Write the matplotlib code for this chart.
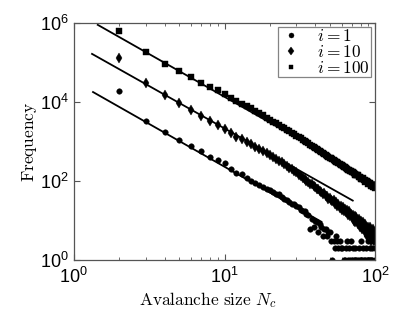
import numpy as np
import matplotlib
matplotlib.use("Agg")
import matplotlib.pyplot as plt
from matplotlib.font_manager import FontProperties
from matplotlib.ticker import NullLocator

plt.rcParams['font.family'] = ['Liberation Sans', 'DejaVu Sans']

sizes = list(range(2, 101))

freq_i1 = [19000, 3300, 1700, 1100, 770, 575, 410, 340, 280, 200,
           162, 150, 118, 102, 90, 80, 70, 62, 58, 52,
           47, 48, 40, 36, 33, 30, 27, 26, 24, 22,
           18, 17, 17, 15, 14, 6, 11, 7, 10, 9,
           5, 8, 7, 4, 6, 6, 4, 5, 5, 3,
           1, 3, 2, 4, 3, 2, 3, 2, 2, 0,
           1, 1, 2, 3, 1, 2, 1, 3, 1, 2,
           1, 1, 2, 1, 0, 1, 2, 1, 1, 3,
           1, 2, 1, 1, 0, 2, 1, 1, 3, 1,
           2, 1, 1, 2, 1, 3, 0, 2, 1]

freq_i10 = [129000, 30900, 15100, 9550, 6310, 4470, 3310, 2630, 2040, 1620,
            1290, 1150, 977, 851, 741, 646, 562, 501, 447, 398,
            363, 324, 295, 269, 245, 219, 199, 176, 165, 143,
            136, 120, 114, 100, 97, 85, 83, 74, 70, 62,
            64, 55, 52, 46, 49, 41, 43, 36, 38, 33,
            31, 34, 27, 29, 24, 27, 21, 24, 19, 22,
            17, 20, 16, 19, 14, 17, 13, 15, 12, 14,
            10, 13, 9, 12, 10, 8, 11, 7, 10, 8,
            6, 9, 7, 5, 8, 6, 4, 7, 5, 6,
            4, 7, 3, 5, 4, 6, 3, 5, 4]

freq_i100 = [631000, 182000, 91200, 58900, 41700, 30900, 24500, 19500, 15800, 12900,
             10700, 9120, 7940, 6920, 5970, 5190, 4550, 4020, 3570, 3190,
             2870, 2590, 2340, 2140, 1950, 1790, 1640, 1520, 1406, 1295,
             1197, 1108, 1028, 957, 891, 832, 778, 729, 685, 644,
             607, 571, 540, 511, 483, 457, 434, 412, 392, 373,
             356, 339, 324, 309, 295, 282, 271, 259, 248, 238,
             229, 228, 211, 203, 189, 188, 182, 175, 169, 170,
             157, 152, 140, 142, 138, 139, 129, 125, 115, 117,
             114, 116, 107, 104, 96, 98, 100, 93, 86, 88,
             89, 83, 77, 79, 81, 71, 73, 74, 66]

# fitted power-law lines: [x_start, x_end], [y_start, y_end]
fit_x_i1 = [1.34, 44.0]
fit_y_i1 = [17800, 9.3]
fit_x_i10 = [1.32, 71.0]
fit_y_i10 = [164000, 32.0]
fit_x_i100 = [1.44, 70.0]
fit_y_i100 = [891000, 200.0]

labels = [r'$i = 1$', r'$i = 10$', r'$i = 100$']

fig = plt.figure(figsize=(4.15, 3.13), dpi=100)
ax = fig.add_axes([0.178, 0.169, 0.726, 0.758])

x = np.array(sizes, dtype=float)
series = [(freq_i1, 'o', fit_x_i1, fit_y_i1, 4.0),
          (freq_i10, 'd', fit_x_i10, fit_y_i10, 4.8),
          (freq_i100, 's', fit_x_i100, fit_y_i100, 3.8)]
handles = []
for (f, m, fx, fy, ms), lab in zip(series, labels):
    f = np.array(f, dtype=float)
    keep = f > 0
    h, = ax.plot(x[keep], f[keep], linestyle='none', marker=m, color='black',
                 markersize=ms, markeredgewidth=0.3, label=lab)
    handles.append(h)
    ax.plot(fx, fy, color='black', linewidth=1.3)

ax.set_xscale('log')
ax.set_yscale('log')
ax.set_xlim(1, 100)
ax.set_ylim(1, 1e6)
ax.yaxis.set_ticks([1, 1e2, 1e4, 1e6])
ax.yaxis.set_minor_locator(NullLocator())

for sp in ax.spines.values():
    sp.set_color('#555555')
    sp.set_linewidth(0.9)
ax.tick_params(which='both', direction='in', top=True, right=True,
               color='#555555', labelsize=13)
ax.tick_params(which='major', length=4)
ax.tick_params(which='minor', length=2.5)
ax.tick_params(axis='x', pad=5)

ax.set_xlabel(r'$\mathrm{Avalanche\ size}\ N_c$', fontsize=12.5,
              math_fontfamily='cm')
ax.xaxis.set_label_coords(0.445, -0.125, transform=ax.transAxes)
ax.xaxis.label.set_verticalalignment('top')
ax.set_ylabel(r'$\mathrm{Frequency}$', fontsize=12.5,
              math_fontfamily='cm')
ax.yaxis.set_label_coords(-0.148, 0.5, transform=ax.transAxes)
ax.yaxis.label.set_verticalalignment('center')

leg = ax.legend(handles=handles, loc='upper right',
                prop=FontProperties(size=12.5, math_fontfamily='cm'),
                frameon=True, fancybox=False, borderpad=0.05,
                labelspacing=0.0, handlelength=1.4, handletextpad=0.8,
                borderaxespad=0.25, markerscale=0.9)
leg.get_frame().set_edgecolor('#666666')
leg.get_frame().set_linewidth(0.9)

fig.savefig('out.png', dpi=100)
